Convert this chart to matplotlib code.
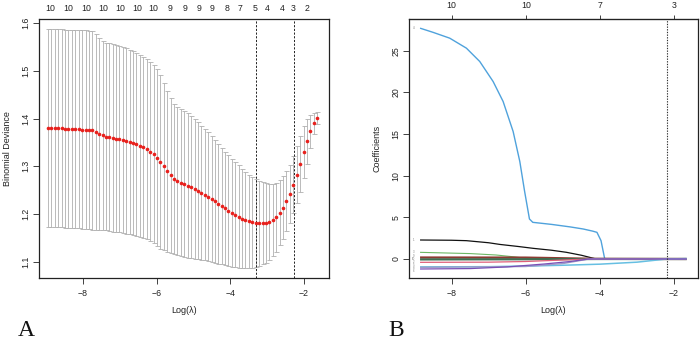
import matplotlib
matplotlib.use("Agg")
import matplotlib.pyplot as plt

plt.rcParams['font.family'] = ['Liberation Sans', 'DejaVu Sans']

# ---------------- Panel A data (cross-validation curve) ----------------
log_lambda = [-8.95, -8.86, -8.77, -8.67, -8.58, -8.49, -8.40, -8.30, -8.21, -8.12,
              -8.03, -7.93, -7.84, -7.75, -7.66, -7.56, -7.47, -7.38, -7.29, -7.19,
              -7.10, -7.01, -6.92, -6.82, -6.73, -6.64, -6.55, -6.45, -6.36, -6.27,
              -6.18, -6.08, -5.99, -5.90, -5.81, -5.71, -5.62, -5.53, -5.44, -5.34,
              -5.25, -5.16, -5.07, -4.97, -4.88, -4.79, -4.70, -4.60, -4.51, -4.42,
              -4.33, -4.23, -4.14, -4.05, -3.96, -3.86, -3.77, -3.68, -3.59, -3.49,
              -3.40, -3.31, -3.22, -3.12, -3.03, -2.94, -2.85, -2.75, -2.66, -2.57,
              -2.48, -2.38, -2.29, -2.20, -2.11, -2.01, -1.92, -1.83, -1.74, -1.64]
cv_mean = [1.381, 1.381, 1.380, 1.380, 1.380, 1.379, 1.379, 1.379, 1.378, 1.378,
           1.377, 1.377, 1.376, 1.375, 1.372, 1.368, 1.365, 1.362, 1.361, 1.359,
           1.358, 1.357, 1.355, 1.353, 1.351, 1.349, 1.346, 1.343, 1.340, 1.336,
           1.331, 1.325, 1.318, 1.309, 1.300, 1.290, 1.281, 1.273, 1.269, 1.266,
           1.263, 1.260, 1.257, 1.253, 1.249, 1.245, 1.241, 1.237, 1.232, 1.227,
           1.222, 1.217, 1.212, 1.207, 1.203, 1.199, 1.195, 1.191, 1.188, 1.185,
           1.183, 1.181, 1.181, 1.181, 1.182, 1.184, 1.188, 1.194, 1.203, 1.214,
           1.227, 1.242, 1.262, 1.283, 1.305, 1.330, 1.352, 1.373, 1.390, 1.401]
cv_se = [0.207, 0.207, 0.207, 0.207, 0.207, 0.207, 0.207, 0.207, 0.207, 0.207,
         0.207, 0.207, 0.207, 0.207, 0.205, 0.200, 0.197, 0.196, 0.196, 0.196,
         0.195, 0.195, 0.195, 0.194, 0.193, 0.192, 0.191, 0.190, 0.189, 0.188,
         0.187, 0.186, 0.185, 0.181, 0.175, 0.168, 0.162, 0.157, 0.155, 0.154,
         0.153, 0.151, 0.149, 0.146, 0.143, 0.140, 0.137, 0.134, 0.131, 0.128,
         0.125, 0.122, 0.119, 0.116, 0.113, 0.110, 0.107, 0.104, 0.101, 0.098,
         0.095, 0.092, 0.089, 0.086, 0.083, 0.079, 0.076, 0.072, 0.068, 0.065,
         0.063, 0.061, 0.060, 0.059, 0.058, 0.055, 0.047, 0.035, 0.022, 0.012]
lambda_min = -3.29
lambda_1se = -2.28
top_pos_A = [-8.90, -8.41, -7.92, -7.46, -6.99, -6.53, -6.10, -5.64, -5.23,
             -4.86, -4.49, -4.09, -3.73, -3.33, -3.00, -2.59, -2.29, -1.91]
top_lab_A = ['10', '10', '10', '10', '10', '10', '10', '9', '9',
             '9', '9', '8', '7', '5', '4', '4', '3', '2']

# ---------------- Panel B data (coefficient paths) ----------------
v4_x = [-8.85, -8.5, -8.05, -7.6, -7.24, -6.88, -6.61, -6.34, -6.16, -6.03,
        -5.90, -5.81, -5.3, -4.8, -4.45, -4.2, -4.08, -3.97, -3.87, -1.66]
v4_y = [27.7, 27.2, 26.5, 25.3, 23.7, 21.3, 18.9, 15.3, 11.7, 8.1,
        4.8, 4.4, 4.15, 3.85, 3.6, 3.35, 3.2, 2.2, 0.0, 0.0]
v1_x = [-8.85, -8.0, -7.6, -7.0, -6.7, -6.2, -5.8, -5.3, -4.9, -4.5, -4.1, -1.66]
v1_y = [2.28, 2.25, 2.2, 1.95, 1.75, 1.5, 1.28, 1.05, 0.8, 0.45, 0.0, 0.0]
v3_x = [-8.85, -7.5, -6.8, -6.3, -5.9, -1.66]
v3_y = [0.8, 0.65, 0.48, 0.25, 0.02, 0.0]
v9_x = [-8.85, -6.0, -4.1, -1.66]
v9_y = [0.18, 0.17, 0.02, 0.0]
v10_x = [-8.85, -6.0, -4.1, -1.66]
v10_y = [-0.05, -0.03, 0.0, 0.0]
v2_x = [-8.85, -7.0, -6.0, -5.0, -4.3, -1.66]
v2_y = [-0.4, -0.38, -0.3, -0.12, 0.0, 0.0]
v5_x = [-8.85, -7.0, -6.0, -5.0, -4.0, -3.0, -2.2, -1.66]
v5_y = [-0.95, -0.92, -0.85, -0.75, -0.62, -0.38, 0.0, 0.05]
v6_x = [-8.85, -7.5, -6.5, -5.5, -4.8, -4.3, -1.66]
v6_y = [-1.2, -1.15, -0.95, -0.6, -0.3, 0.0, 0.0]
v8_x = [-8.85, -6.0, -5.0, -4.3, -1.66]
v8_y = [-1.0, -0.9, -0.55, 0.0, 0.0]
path_labels = ['4', '1', '3', '9', '10', '2', '5', '8', '6']
lambda_B = -2.2
top_pos_B = [-8, -6, -4, -2]
top_lab_B = ['10', '10', '7', '3']

W, H = 700, 341
fig = plt.figure(figsize=(7.0, 3.41), dpi=100)

def px_axes(l, r, t, b):
    return fig.add_axes([l / W, (H - b) / H, (r - l) / W, (b - t) / H])

tick_kw = dict(labelsize=6.3, length=4, width=0.6, colors='#222222', pad=2)

# ---------------- Panel A ----------------
axA = px_axes(39, 329, 19, 278)
axA.errorbar(log_lambda, cv_mean, yerr=cv_se, fmt='none', ecolor='#B0B0B0',
             elinewidth=0.6, capsize=1.8, capthick=0.6, zorder=1)
axA.plot(log_lambda, cv_mean, 'o', color='#E8201C', markersize=2.6,
         markeredgewidth=0, zorder=3)
for v in (lambda_min, lambda_1se):
    axA.axvline(v, color='#222222', lw=0.7, ls=(0, (2.2, 1.6)), zorder=2)
axA.set_xlim(-9.196, -1.32)
axA.set_ylim(1.0667, 1.608)
axA.set_xticks([-8, -6, -4, -2])
axA.set_yticks([1.1, 1.2, 1.3, 1.4, 1.5, 1.6])
axA.set_yticklabels(['1.1', '1.2', '1.3', '1.4', '1.5', '1.6'], rotation=90, va='center')
axA.tick_params(**tick_kw)
axA.tick_params(axis='x', pad=4)
axA.set_xlabel('Log(λ)', fontsize=6.5, color='#222222', labelpad=6)
axA.set_ylabel('Binomial Deviance', fontsize=6.5, color='#222222', labelpad=7)
for s in axA.spines.values():
    s.set_linewidth(0.9)
    s.set_color('#222222')
secA = axA.secondary_xaxis('top')
secA.set_xticks(top_pos_A)
secA.set_xticklabels(top_lab_A)
secA.tick_params(length=0, labelsize=6.3, colors='#222222', pad=4.5)
secA.spines['top'].set_visible(False)

# ---------------- Panel B ----------------
axB = px_axes(409, 698, 19, 278)
paths = [(v4_x, v4_y, '#4FA2DC', 1.0),
         (v1_x, v1_y, '#111111', 0.9),
         (v3_x, v3_y, '#6DB865', 0.8),
         (v9_x, v9_y, '#8C3B32', 1.6),
         (v10_x, v10_y, '#3F6E52', 1.6),
         (v2_x, v2_y, '#E0607A', 0.9),
         (v5_x, v5_y, '#66BFE2', 1.1),
         (v8_x, v8_y, '#9C9CC8', 1.0),
         (v6_x, v6_y, '#7A4FB5', 0.9)]
# small vertical nudges (in points) so that stacked path labels stay legible
label_nudge = [0, 0, 0, 1.3, 0.3, 0, 1.1, -0.8, -1.8]
for (xs, ys, c, lw), lab, dy in zip(paths, path_labels, label_nudge):
    axB.plot(xs, ys, color=c, lw=lw, solid_capstyle='butt')
    axB.annotate(lab, (xs[0], ys[0]), xytext=(-4, dy), textcoords='offset points',
                 fontsize=2.0, color='#777777', ha='right', va='center')
axB.axvline(lambda_B, color='#333333', lw=0.8, ls=(0, (1.2, 1.2)))
axB.set_xlim(-9.148, -1.355)
axB.set_ylim(-2.28, 28.8)
axB.set_xticks([-8, -6, -4, -2])
axB.set_yticks([0, 5, 10, 15, 20, 25])
axB.set_yticklabels(['0', '5', '10', '15', '20', '25'], rotation=90, va='center')
axB.tick_params(**tick_kw)
axB.tick_params(axis='x', pad=4)
axB.set_xlabel('Log(λ)', fontsize=6.5, color='#222222', labelpad=6)
axB.set_ylabel('Coefficients', fontsize=6.5, color='#222222', labelpad=7)
for s in axB.spines.values():
    s.set_linewidth(0.9)
    s.set_color('#222222')
secB = axB.secondary_xaxis('top')
secB.set_xticks(top_pos_B)
secB.set_xticklabels(top_lab_B)
secB.tick_params(length=3, width=0.6, labelsize=6.3, colors='#222222', pad=3.5)

# Panel letters
fig.text(18 / W, 1 - 336 / H, 'A', fontsize=17, family='Liberation Serif',
         ha='left', va='baseline', color='#111111')
fig.text(388 / W, 1 - 336 / H, 'B', fontsize=17, family='Liberation Serif',
         ha='left', va='baseline', color='#111111')

fig.savefig('out.png', dpi=100)
